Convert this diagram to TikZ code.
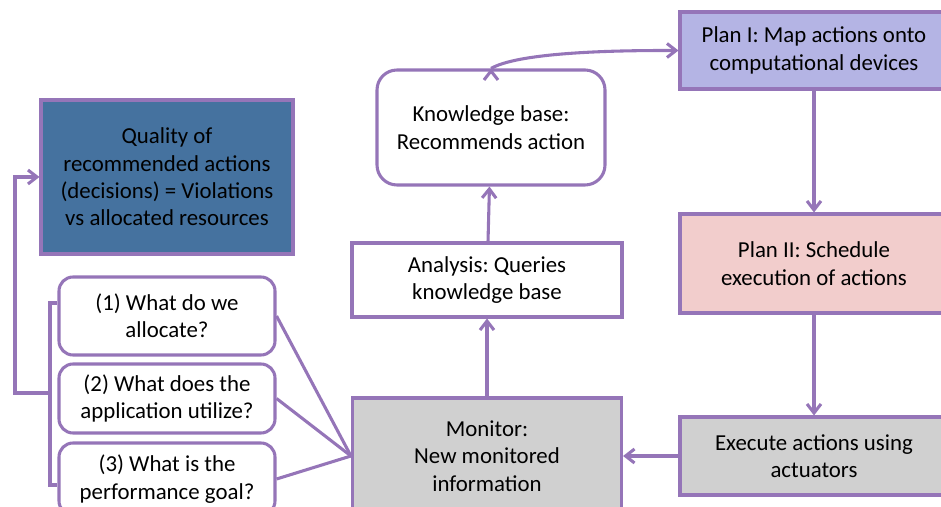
\documentclass[tikz,border=0pt]{standalone}
\usepackage{fontspec}
\setmainfont{Carlito}
\usepackage{xcolor}
\usepackage{tikz}
\usetikzlibrary{arrows.meta, positioning}
\frenchspacing

\definecolor{linepurple}{HTML}{9575B8}
\definecolor{qualblue}{HTML}{45729F}
\definecolor{planblue}{HTML}{B4B4E4}
\definecolor{planpink}{HTML}{F2CDCC}
\definecolor{boxgray}{HTML}{D0D0D0}

\begin{document}
\begin{tikzpicture}[>={Straight Barb[length=1.8mm, width=2.8mm]},
                    line width=1.75pt, node distance=3cm]
\tikzstyle{box}=[rectangle, draw=linepurple, line width=1.75pt, align=center,
                    inner sep=2pt, font=\fontsize{13}{15.6}\selectfont]
\tikzstyle{roundbox}=[box, rounded corners=0.28cm, fill=white]
\tikzstyle{flow}=[->, draw=linepurple, line width=1.75pt]
\tikzstyle{link}=[draw=linepurple, line width=1.75pt]
  \useasboundingbox (0,0) rectangle (18.82,-10.14);
  \node[box, fill=boxgray, minimum width=5.38cm, minimum height=2.32cm] (M)
       at (9.74,-9.12) {Monitor:\\New monitored\\information};
  \node[box, fill=white, minimum width=5.4cm, minimum height=1.48cm] (A)
       [above of=M, node distance=3.52cm] {Analysis: Queries\\knowledge base};
  \node[roundbox, rounded corners=0.4cm, minimum width=4.56cm, minimum height=2.3cm] (KB)
       [above of=A, node distance=3.05cm, xshift=0.08cm] {Knowledge base:\\Recommends action};
  %
  \node[box, fill=boxgray, minimum width=5.36cm, minimum height=1.56cm] (E)
       [right of=M, node distance=6.54cm] {Execute actions using\\actuators};
  \node[box, fill=planpink, minimum width=5.36cm, minimum height=1.98cm] (P2)
       [above of=E, node distance=3.85cm] {Plan II: Schedule\\execution of actions};
  \node[box, fill=planblue, minimum width=5.36cm, minimum height=1.54cm] (P1)
       [above of=P2, node distance=4.26cm] {Plan I: Map actions onto\\computational devices};
  %
  \node[roundbox, minimum width=4.32cm, minimum height=1.44cm] (Q3)
       [left of=M, node distance=6.4cm, yshift=-0.46cm] {(3) What is the\\performance goal?};
  \node[roundbox, minimum width=4.32cm, minimum height=1.38cm] (Q2)
       [above of=Q3, node distance=1.61cm] {(2) What does the\\application utilize?};
  \node[roundbox, minimum width=4.32cm, minimum height=1.56cm] (Q1)
       [above of=Q2, node distance=1.65cm] {(1) What do we\\allocate?};
  \node[box, fill=qualblue, minimum width=5.04cm, minimum height=3.08cm] (Q)
       [above of=Q1, node distance=2.78cm]
       {Quality of\\recommended actions\\(decisions) = Violations\\vs allocated resources};
  %
  \coordinate (brtop) at (1.0,-6.06);
  \coordinate (brbot) at (1.0,-9.7);
  \coordinate (brmid) at (1.0,-7.86);
  \coordinate (loop)  at (0.3,-7.86);
  %
  \path[flow] (M)  edge (A);
  \path[flow] (A)  edge (KB);
  \path[flow] (KB.north) edge [out=30, in=180, looseness=0.5] (P1.west);
  \path[flow] (P1) edge (P2);
  \path[flow] (P2) edge (E);
  \path[flow] (E)  edge (M);
  %
  \path[link] (Q1.east) edge (M.west);
  \path[link] (Q2.east) edge (M.west);
  \path[link] (Q3.east) edge (M.west);
  %
  \draw[link] (brtop -| Q1.west) -- (brtop) -- (brbot) -- (brbot -| Q3.west);
  \draw[flow] (brmid) -- (loop) |- (Q.west);
\end{tikzpicture}
\end{document}
